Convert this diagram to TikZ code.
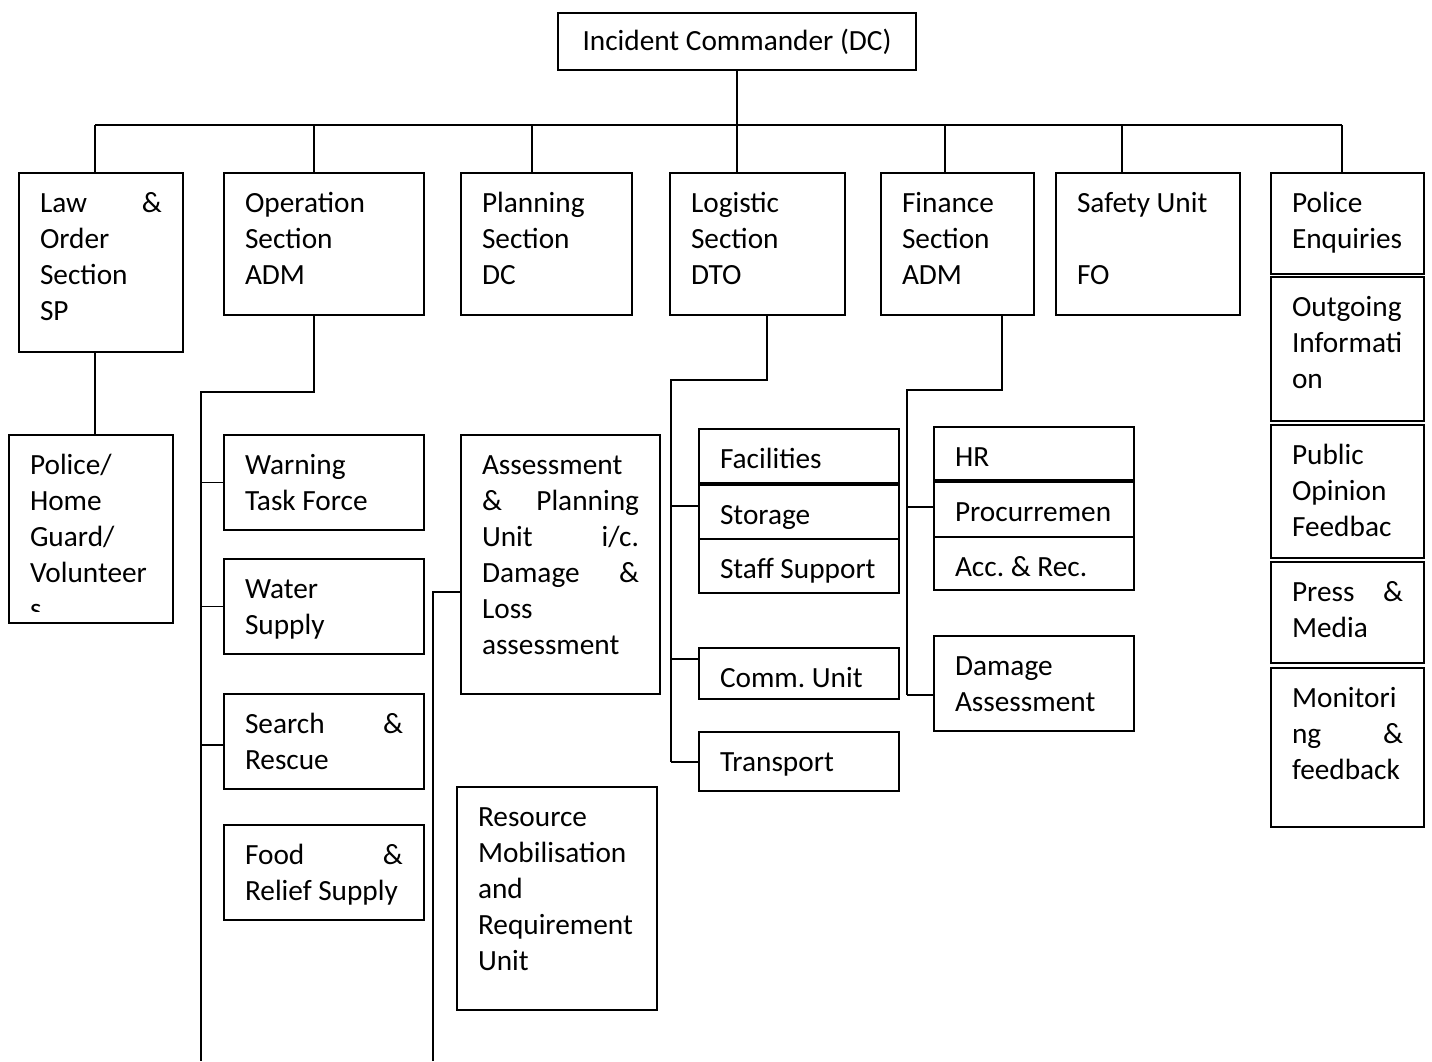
\documentclass[tikz,border=0pt]{standalone}
\usepackage{fontspec}
\setmainfont{Carlito}
\frenchspacing
\hyphenpenalty=10000
\exhyphenpenalty=10000

% A framed unit: empty frame node plus a top-left aligned text node
% #1 name, #2 left, #3 top, #4 right, #5 bottom, #6 text
\newcommand\unitbox[6]{%
  \pgfmathsetmacro\ubw{#4-#2}%
  \pgfmathsetmacro\ubh{#5-#3}%
  \pgfmathsetmacro\ubt{#4-#2-42}%
  \node[frame, minimum width=\ubw pt, minimum height=\ubh pt] (#1) at (#2,#3) {};
  \node[label, text width=\ubt pt] (#1-t) at ({#2+21},{#3+9.5}) {\rule{0pt}{30pt}#6};
}

\begin{document}
\begin{tikzpicture}[x=1pt, y=-1pt,
  frame/.style={draw, line width=1.8pt, inner sep=0pt, outer sep=0pt, anchor=north west},
  label/.style={inner sep=0pt, outer sep=0pt, anchor=north west, align=flush left,
                font=\fontsize{29.3}{36}\selectfont},
  link/.style={line width=1.8pt}]
\useasboundingbox (0,0) rectangle (1432,1061);

% Commander
\node[frame, minimum width=358pt, minimum height=57pt,
      font=\fontsize{29.3}{36}\selectfont] (ic) at (558,13) {Incident Commander (DC)};

% Sections
\unitbox{law}{19}{173}{183}{352}{Law\hfill\&\\Order\\Section\\SP}
\unitbox{op}{224}{173}{424}{315}{Operation\\Section\\ADM}
\unitbox{plan}{461}{173}{632}{315}{Planning\\Section\\DC}
\unitbox{log}{670}{173}{845}{315}{Logistic\\Section\\DTO}
\unitbox{fin}{881}{173}{1034}{315}{Finance\\Section\\ADM}
\unitbox{safe}{1056}{173}{1240}{315}{Safety Unit\\[36pt]FO}

% Media column
\unitbox{pe}{1271}{173}{1424}{274}{Police\\Enquiries}
\unitbox{out}{1271}{277}{1424}{421}{Outgoing\\Informati\\on}
\unitbox{pub}{1271}{425}{1424}{558}{Public\\Opinion\\Feedbac}
\unitbox{press}{1271}{562}{1424}{663}{Press\hfill\&\\Media}
\unitbox{mon}{1271}{668}{1424}{827}{Monitori\\ng\hfill\&\\feedback}

% Law & order unit (text clipped by its frame)
\node[frame, minimum width=164pt, minimum height=188pt] (phg) at (9,435) {};
\begin{scope}
  \clip (9,435) rectangle (173,611);
  \node[label, text width=122pt] (phg-t) at (30,444.5)
    {\rule{0pt}{30pt}Police/\\Home\\Guard/\\Volunteer\\s};
\end{scope}

% Operation units
\unitbox{warn}{224}{435}{424}{530}{Warning\\Task Force}
\unitbox{water}{224}{559}{424}{654}{Water\\Supply}
\unitbox{search}{224}{694}{424}{789}{Search\hfill\&\\Rescue}
\unitbox{food}{224}{825}{424}{920}{Food\hfill\&\\Relief Supply}

% Planning units
\unitbox{assess}{461}{435}{660}{694}{Assessment\\\&\hfill Planning\\Unit\hfill i/c.\\Damage\hfill\&\\Loss\\assessment}
\unitbox{res}{457}{787}{657}{1010}{Resource\\Mobilisation\\and\\Requirement\\Unit}

% Logistic units
\unitbox{fac}{699}{429}{899}{483}{Facilities}
\unitbox{stor}{699}{485}{899}{539}{Storage}
\unitbox{staff}{699}{539}{899}{593}{Staff Support}
\unitbox{comm}{699}{648}{899}{699}{Comm. Unit}
\unitbox{trans}{699}{732}{899}{791}{Transport}

% Finance units
\unitbox{hr}{934}{427}{1134}{480}{HR}
\unitbox{proc}{934}{482}{1134}{537}{Procurremen}
\unitbox{acc}{934}{537}{1134}{590}{Acc. \& Rec.}
\unitbox{dmg}{934}{636}{1134}{731}{Damage\\Assessment}

% Top bus
\coordinate (dlaw) at (95,125);
\coordinate (dop) at (314,125);
\coordinate (dplan) at (532,125);
\coordinate (dlog) at (737,125);
\coordinate (dfin) at (945,125);
\coordinate (dsafe) at (1122,125);
\coordinate (dpe) at (1342,125);
\draw[link] (ic.south) -- (dlog);
\draw[link] (dlaw) -- (dpe);
\foreach \d/\n in {dlaw/law, dop/op, dplan/plan, dlog/log, dfin/fin, dsafe/safe, dpe/pe}
  \draw[link] (\d) -- (\d |- \n.north);

% Law & order branch
\draw[link] (dlaw |- law.south) -- (dlaw |- phg.north);

% Operation branch
\coordinate (opk) at (314,392);
\coordinate (opbot) at (201,1061);
\draw[link] (opk |- op.south) -- (opk) -- (opk -| opbot) -- (opbot);
\draw[link] (opbot |- warn.west) -- (warn.west);
\draw[link] (opbot |- water.west) -- (water.west);
\coordinate (opsr) at (201,745);
\draw[link] (opsr) -- (opsr -| search.west);

% Assessment feed line
\coordinate (ask) at (433,592);
\coordinate (asbot) at (433,1061);
\draw[link] (asbot) -- (ask) -- (ask -| assess.west);

% Logistic branch
\coordinate (lgk) at (767,380);
\coordinate (lgl) at (671,380);
\coordinate (lg1) at (671,506);
\coordinate (lg2) at (671,659);
\coordinate (lg3) at (671,762);
\draw[link] (lgk |- log.south) -- (lgk) -- (lgl) -- (lg3);
\draw[link] (lg1) -- (lg1 -| stor.west);
\draw[link] (lg2) -- (lg2 -| comm.west);
\draw[link] (lg3) -- (lg3 -| trans.west);

% Finance branch
\coordinate (fnk) at (1002,390);
\coordinate (fnl) at (907,390);
\coordinate (fn1) at (907,507);
\coordinate (fn2) at (907,695);
\draw[link] (fnk |- fin.south) -- (fnk) -- (fnl) -- (fn2);
\draw[link] (fn1) -- (fn1 -| proc.west);
\draw[link] (fn2) -- (fn2 -| dmg.west);

\end{tikzpicture}
\end{document}
